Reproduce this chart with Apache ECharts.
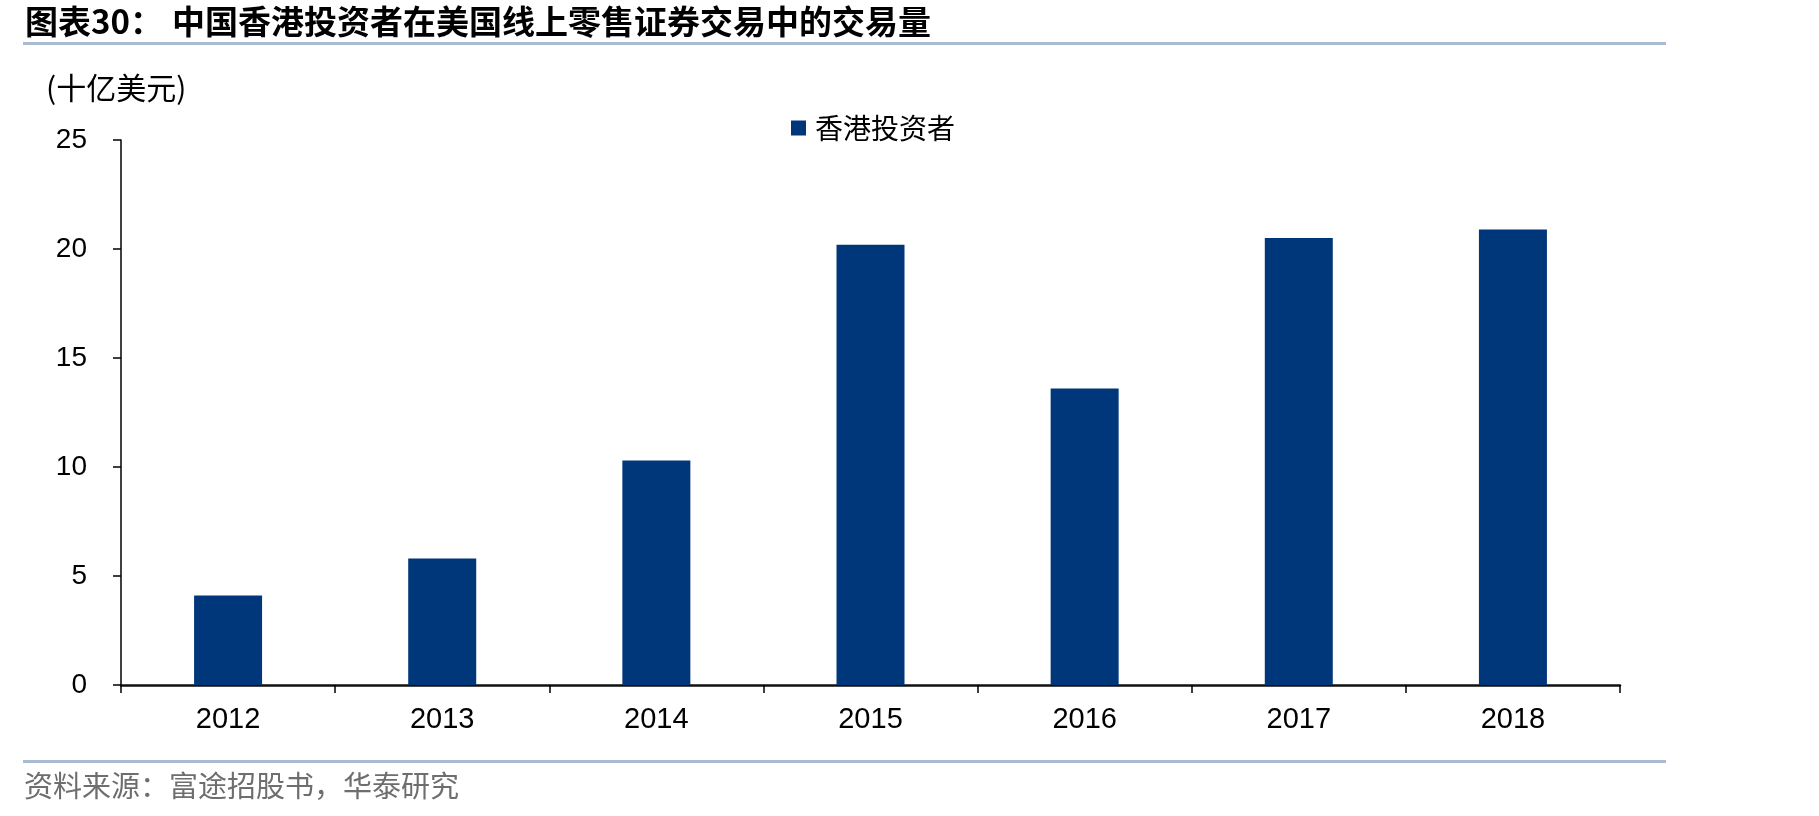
<!DOCTYPE html>
<html>
<head>
<meta charset="utf-8">
<script src="https://cdn.jsdelivr.net/npm/echarts@6/dist/echarts.min.js"></script>
<style>
html,body{margin:0;padding:0;background:#fff;}
#c{width:1819px;height:816px;}
</style>
</head>
<body>
<div id="c"></div>
<script>
const categories = ['2012','2013','2014','2015','2016','2017','2018'];
const hkValues = [4.1, 5.8, 10.3, 20.2, 13.6, 20.5, 20.9];
const seriesName = '香港投资者';
const titlePrefix = '图表30：';
const titleText = '中国香港投资者在美国线上零售证券交易中的交易量';
const unitText = '(十亿美元)';
const sourceText = '资料来源：富途招股书，华泰研究';

const CJK = '"Noto Sans CJK SC", sans-serif';
const LAT = '"Liberation Sans", Arial, sans-serif';

const chart = echarts.init(document.getElementById('c'));
chart.setOption({
  backgroundColor: '#ffffff',
  animation: false,
  grid: { left: 121, right: 199, top: 140, bottom: 131, containLabel: false },
  legend: {
    data: [seriesName],
    left: 786, top: 108,
    icon: 'rect', itemWidth: 15, itemHeight: 15,
    textStyle: { fontFamily: CJK, fontSize: 28, color: '#000', lineHeight: 30, padding: [0, 0, 0, 4] }
  },
  xAxis: {
    type: 'category',
    data: categories,
    axisLine: { show: true, lineStyle: { color: '#111', width: 2.5 } },
    axisTick: { show: true, length: 8, lineStyle: { color: '#000', width: 1.5 } },
    axisLabel: { fontFamily: LAT, fontSize: 29, color: '#000', margin: 20 },
    splitLine: { show: false }
  },
  yAxis: {
    type: 'value',
    min: 0, max: 25, interval: 5,
    axisLine: { show: true, lineStyle: { color: '#000', width: 1.5 } },
    axisTick: { show: true, length: 8, lineStyle: { color: '#000', width: 1.5 } },
    axisLabel: { fontFamily: LAT, fontSize: 28, color: '#000', margin: 34 },
    splitLine: { show: false }
  },
  series: [{
    name: seriesName,
    type: 'bar',
    data: hkValues,
    barWidth: 68,
    itemStyle: { color: '#00377a' }
  }],
  graphic: [
    { type: 'text', left: 25, top: 5, style: { text: titlePrefix, font: 'bold 33px ' + CJK, fill: '#000' } },
    { type: 'text', left: 172, top: 5, style: { text: titleText, font: 'bold 33px ' + CJK, fill: '#000' } },
    { type: 'rect', shape: { x: 23, y: 42, width: 1643, height: 3 }, style: { fill: '#a9bbd0' } },
    { type: 'text', left: 46, top: 73, style: { text: unitText, font: '30px ' + CJK, fill: '#000' } },
    { type: 'rect', shape: { x: 23, y: 760, width: 1643, height: 3 }, style: { fill: '#a9bbd0' } },
    { type: 'text', left: 24, top: 771, style: { text: sourceText, font: '29px ' + CJK, fill: '#6e6e6e' } }
  ]
});
</script>
</body>
</html>
